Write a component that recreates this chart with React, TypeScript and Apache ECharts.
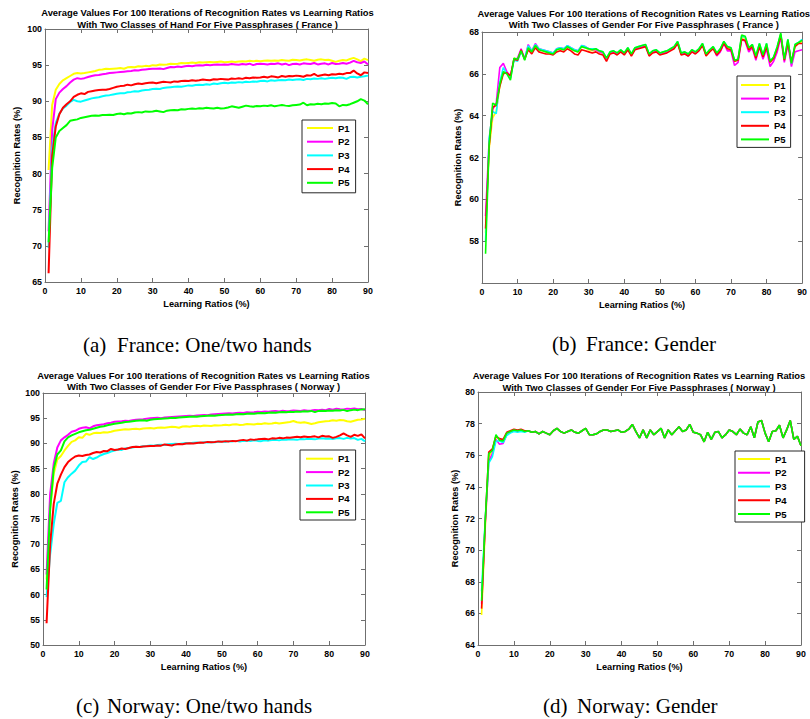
import { useEffect, useRef } from 'react';
import * as echarts from 'echarts';

// ---------- data ----------
const ratios: number[] = Array.from({ length: 90 }, (_, i) => i + 1);
const seriesNames = ['P1', 'P2', 'P3', 'P4', 'P5'];
const seriesColors = ['#ffff00', '#ff00ff', '#00ffff', '#ff0000', '#00ff00'];

const xTicks = { min: 0, max: 90, interval: 10 };
const yTicksA = { min: 65, max: 100, interval: 5 };
const yTicksB = { min: 56, max: 68, interval: 2 };
const yTicksC = { min: 50, max: 100, interval: 5 };
const yTicksD = { min: 64, max: 80, interval: 2 };

// (a) France, one/two hands
const franceHandP1 = [
  80.5, 89.5, 91.6, 92.4, 92.9, 93.2, 93.5, 93.8, 93.9, 93.85,
  93.9, 94.0, 94.1, 94.2, 94.35, 94.4, 94.5, 94.45, 94.5, 94.55,
  94.6, 94.5, 94.7, 94.75, 94.7, 94.85, 94.8, 94.9, 94.85, 95.0,
  94.95, 95.1, 95.05, 95.1, 95.2, 95.15, 95.2, 95.3, 95.25, 95.3,
  95.35, 95.3, 95.4, 95.35, 95.4, 95.45, 95.4, 95.45, 95.5, 95.4,
  95.45, 95.5, 95.45, 95.5, 95.55, 95.5, 95.6, 95.55, 95.6, 95.55,
  95.6, 95.65, 95.6, 95.65, 95.6, 95.7, 95.65, 95.6, 95.75, 95.7,
  95.65, 95.75, 95.8, 95.7, 95.6, 95.75, 95.8, 95.7, 95.75, 95.6,
  95.45, 95.6, 95.7, 95.65, 95.85, 96.0, 95.8, 95.55, 95.9, 95.7,
];
const franceHandP2 = [
  72, 86, 90.3, 91.2, 91.7, 92.1, 92.6, 93.0, 93.2, 93.1,
  93.2, 93.35, 93.5, 93.6, 93.65, 93.75, 93.8, 93.9, 93.95, 94.0,
  94.05, 94.1, 94.15, 94.2, 94.3, 94.25, 94.35, 94.4, 94.45, 94.5,
  94.5, 94.55, 94.45, 94.6, 94.75, 94.7, 94.8, 94.75, 94.85, 94.9,
  94.85, 94.95, 95.0, 94.95, 95.05, 95.0, 95.05, 95.1, 95.05, 95.1,
  95.05, 95.15, 95.1, 95.05, 95.15, 95.1, 95.2, 95.0, 95.15, 95.2,
  95.15, 95.1, 95.2, 95.15, 95.25, 95.1, 95.2, 95.0, 95.15, 95.2,
  95.1, 95.25, 95.2, 95.15, 95.3, 95.1, 95.2, 95.25, 95.1, 95.3,
  95.15, 95.2, 95.3, 95.2, 95.35, 95.6, 95.4, 95.3, 95.5, 95.1,
];
const franceHandP3 = [
  69.7, 83.5, 87, 88.3, 89.0, 89.4, 89.9, 90.2, 90.0, 89.95,
  90.1, 90.25, 90.4, 90.5, 90.55, 90.7, 90.8, 90.85, 90.95, 91.05,
  91.1, 91.1, 91.25, 91.3, 91.4, 91.35, 91.5, 91.55, 91.6, 91.7,
  91.75, 91.7, 91.85, 91.9, 91.95, 92.0, 92.05, 92.0, 92.1, 92.2,
  92.15, 92.25, 92.3, 92.25, 92.35, 92.3, 92.45, 92.4, 92.5, 92.55,
  92.5, 92.6, 92.55, 92.65, 92.6, 92.7, 92.65, 92.75, 92.7, 92.8,
  92.85, 92.75, 92.9, 92.85, 92.9, 92.95, 92.9, 93.0, 92.95, 93.0,
  93.05, 92.95, 93.1, 93.05, 93.15, 93.1, 93.2, 93.1, 93.2, 93.25,
  93.2, 93.3, 93.25, 93.1, 93.35, 93.4, 93.3, 93.4, 93.45, 93.55,
];
const franceHandP4 = [
  66.2, 82.5, 86.5, 88.2, 89.1, 89.6, 90.0, 90.6, 90.9, 91.1,
  91.0, 91.3, 91.4, 91.5, 91.55, 91.6, 91.6, 91.7, 91.85, 92.0,
  92.1, 92.15, 92.3, 92.2, 92.35, 92.45, 92.4, 92.5, 92.55, 92.6,
  92.5, 92.6, 92.7, 92.65, 92.6, 92.75, 92.7, 92.8, 92.85, 92.8,
  92.9, 92.85, 92.9, 93.0, 92.95, 92.9, 93.05, 93.0, 93.1, 93.05,
  93.0, 93.15, 93.1, 93.2, 93.1, 93.25, 93.2, 93.3, 93.25, 93.3,
  93.4, 93.3, 93.45, 93.4, 93.3, 93.5, 93.4, 93.5, 93.45, 93.55,
  93.5, 93.4, 93.6, 93.55, 93.8, 93.5, 93.6, 93.7, 93.6, 93.75,
  93.7, 93.8, 93.75, 93.9, 93.9, 94.25, 93.85, 93.6, 94.0, 93.9,
];
const franceHandP5 = [
  70.5, 80.8, 85.0, 85.9, 86.3, 86.7, 87.3, 87.4, 87.5, 87.7,
  87.8, 87.9, 88.0, 88.05, 88.0, 88.1, 88.1, 88.15, 88.1, 88.25,
  88.3, 88.2, 88.35, 88.3, 88.45, 88.5, 88.45, 88.6, 88.55, 88.6,
  88.7, 88.6, 88.5, 88.7, 88.75, 88.8, 88.75, 88.9, 88.85, 88.95,
  89.0, 88.95, 89.05, 89.0, 89.1, 89.05, 89.0, 89.1, 89.0, 89.05,
  89.15, 89.3, 89.2, 89.1, 89.25, 89.4, 89.3, 89.25, 89.35, 89.3,
  89.4, 89.35, 89.45, 89.3, 89.4, 89.5, 89.4, 89.35, 89.45, 89.5,
  89.55, 89.8, 89.45, 89.6, 89.55, 89.65, 89.6, 89.7, 89.65, 89.75,
  89.7, 89.3, 89.5, 89.45, 89.6, 89.8, 90.0, 90.3, 90.1, 89.6,
];

// (b) France, gender
const franceGenderP1 = [
  58.4, 62.4, 63.9, 64.2, 65.4, 66.1, 66.05, 65.8, 66.75, 66.7,
  67.1, 66.7, 67.2, 67.05, 67.3, 67.15, 67.1, 67.05, 67.0, 66.95,
  67.15, 67.2, 67.15, 67.3, 67.2, 67.1, 67.05, 67.3, 67.25, 67.15,
  67.1, 67.15, 67.05, 67.0, 66.7, 67.0, 67.05, 66.95, 67.1, 66.95,
  67.2, 66.9, 67.2, 67.25, 67.3, 67.35, 66.9, 67.05, 67.1, 66.95,
  67.0, 67.05, 67.15, 67.25, 67.5, 66.95, 67.0, 66.9, 67.1, 67.0,
  67.15, 67.4, 66.9, 67.1, 67.25, 66.95, 67.15, 67.5, 67.25, 67.2,
  66.6, 66.7, 67.75, 67.7, 67.2, 67.35, 66.8, 67.4, 66.85, 67.4,
  66.55, 66.75, 67.25, 67.9, 66.65, 67.6, 66.45, 67.35, 67.45, 67.55,
];
const franceGenderP2 = [
  59.2, 62.8, 64.3, 64.6, 66.3, 66.5, 66.1, 65.9, 66.7, 66.75,
  67.2, 66.7, 67.4, 67.1, 67.45, 67.2, 67.15, 67.1, 67.05, 67.0,
  67.2, 67.25, 67.2, 67.35, 67.25, 67.15, 67.1, 67.35, 67.3, 67.2,
  67.15, 67.15, 67.05, 67.0, 66.7, 67.0, 67.05, 66.95, 67.1, 66.95,
  67.2, 66.9, 67.2, 67.25, 67.3, 67.35, 66.9, 67.05, 67.1, 66.95,
  67.0, 67.05, 67.15, 67.25, 67.5, 66.95, 67.0, 66.85, 67.1, 67.0,
  67.15, 67.4, 66.9, 67.1, 67.25, 66.85, 67.05, 67.45, 67.1, 67.1,
  66.4, 66.55, 67.65, 67.55, 67.05, 67.25, 66.65, 67.3, 66.7, 67.2,
  66.35, 66.6, 67.05, 67.75, 66.55, 67.4, 66.35, 67.05, 67.1, 67.15,
];
const franceGenderP3 = [
  58.0, 62.9, 64.2, 64.1, 65.6, 66.3, 66.0, 65.8, 66.65, 66.6,
  67.05, 66.75, 67.35, 67.1, 67.4, 67.2, 67.15, 67.1, 67.05, 67.0,
  67.2, 67.25, 67.2, 67.35, 67.25, 67.15, 67.1, 67.35, 67.3, 67.2,
  67.2, 67.2, 67.1, 67.05, 66.75, 67.05, 67.1, 67.0, 67.15, 67.0,
  67.25, 66.95, 67.25, 67.3, 67.35, 67.4, 66.95, 67.1, 67.15, 67.0,
  67.05, 67.1, 67.2, 67.3, 67.55, 67.0, 67.05, 66.95, 67.15, 67.05,
  67.2, 67.45, 66.95, 67.15, 67.3, 67.0, 67.2, 67.55, 67.3, 67.25,
  66.65, 66.7, 67.8, 67.75, 67.25, 67.4, 66.85, 67.45, 66.9, 67.45,
  66.6, 66.8, 67.3, 67.9, 66.7, 67.65, 66.5, 67.4, 67.5, 67.65,
];
const franceGenderP4 = [
  58.6, 62.5, 64.4, 64.5, 65.4, 66.0, 66.05, 65.9, 66.7, 66.65,
  67.15, 66.7, 67.15, 66.95, 67.25, 67.05, 67.0, 66.95, 66.95, 66.9,
  67.05, 67.1, 67.05, 67.2, 67.1, 66.95, 66.9, 67.15, 67.1, 67.05,
  67.0, 67.05, 66.95, 66.9, 66.6, 66.95, 67.0, 66.9, 67.05, 66.9,
  67.15, 66.85, 67.15, 67.2, 67.25, 67.3, 66.85, 67.0, 67.05, 66.9,
  66.95, 67.0, 67.1, 67.2, 67.45, 66.9, 66.95, 66.85, 67.05, 66.95,
  67.1, 67.35, 66.85, 67.05, 67.2, 66.9, 67.1, 67.45, 67.2, 67.15,
  66.6, 66.65, 67.65, 67.6, 67.15, 67.3, 66.75, 67.3, 66.8, 67.3,
  66.55, 66.75, 67.2, 67.85, 66.65, 67.5, 66.55, 67.3, 67.45, 67.45,
];
const franceGenderP5 = [
  57.4, 62.6, 64.6, 64.5, 65.5, 66.1, 66.0, 65.7, 66.75, 66.7,
  67.1, 66.65, 67.25, 67.05, 67.35, 67.15, 67.1, 67.05, 67.0, 66.95,
  67.15, 67.2, 67.15, 67.3, 67.2, 67.1, 67.05, 67.3, 67.25, 67.2,
  67.15, 67.2, 67.1, 67.05, 66.75, 67.05, 67.1, 67.0, 67.15, 67.0,
  67.25, 66.95, 67.25, 67.3, 67.35, 67.4, 66.95, 67.1, 67.15, 67.0,
  67.05, 67.1, 67.2, 67.3, 67.55, 67.0, 67.05, 66.95, 67.15, 67.05,
  67.2, 67.45, 66.95, 67.15, 67.3, 67.0, 67.2, 67.55, 67.3, 67.25,
  66.65, 66.7, 67.85, 67.8, 67.25, 67.4, 66.85, 67.45, 66.9, 67.45,
  66.6, 66.8, 67.3, 67.95, 66.7, 67.65, 66.5, 67.4, 67.5, 67.6,
];

// (c) Norway, one/two hands
const norwayHandP1 = [
  63, 77, 84, 86.8, 87.5, 88.6, 89.5, 90.3, 90.6, 91.2,
  91.1, 91.9, 91.7, 92.0, 92.1, 92.05, 92.2, 92.15, 92.3, 92.5,
  92.6, 92.7, 92.8, 92.75, 92.85, 92.9, 92.8, 92.95, 93.0, 93.05,
  92.95, 93.1, 93.15, 93.1, 93.2, 93.3, 93.25, 93.1, 93.35, 93.4,
  93.3, 93.45, 93.5, 93.4, 93.55, 93.5, 93.45, 93.6, 93.55, 93.6,
  93.7, 93.6, 93.75, 93.8, 93.65, 93.7, 93.85, 93.8, 93.75, 93.9,
  93.85, 94.0, 93.9, 93.95, 94.1, 93.95, 94.05, 94.15, 94.25, 94.45,
  94.2, 94.1, 94.2, 94.05, 93.85, 94.0, 94.2, 94.3, 94.4, 94.45,
  94.6, 94.5, 94.65, 94.6, 94.4, 94.3, 94.5, 94.7, 94.75, 94.9,
];
const norwayHandP2 = [
  64, 80, 86, 89.2, 90.6, 91.2, 91.7, 92.3, 92.5, 92.9,
  93.1, 93.2, 93.0, 93.4, 93.6, 93.7, 93.8, 94.0, 94.1, 94.3,
  94.35, 94.4, 94.5, 94.45, 94.6, 94.7, 94.75, 94.8, 94.9, 95.0,
  95.05, 95.1, 95.0, 95.15, 95.2, 95.25, 95.3, 95.35, 95.4, 95.45,
  95.5, 95.45, 95.55, 95.6, 95.65, 95.6, 95.75, 95.8, 95.85, 95.9,
  95.95, 96.0, 95.95, 96.05, 96.1, 96.05, 96.2, 96.15, 96.2, 96.3,
  96.25, 96.35, 96.3, 96.4, 96.45, 96.35, 96.5, 96.4, 96.45, 96.55,
  96.5, 96.45, 96.6, 96.5, 96.55, 96.65, 96.6, 96.7, 96.6, 96.85,
  96.7, 96.9, 96.8, 96.75, 96.9, 96.85, 96.95, 96.8, 96.85, 96.6,
];
const norwayHandP3 = [
  59.5, 68, 74, 78.2, 78.6, 82.3, 83.3, 84.0, 84.6, 85.6,
  86.3, 86.4, 87.3, 86.9, 87.2, 87.6, 87.9, 88.1, 88.4, 88.6,
  88.8, 88.7, 89.0, 89.1, 89.2, 89.35, 89.3, 89.45, 89.5, 89.6,
  89.55, 89.7, 89.75, 89.7, 89.85, 89.9, 89.95, 89.9, 90.0, 90.1,
  90.05, 90.15, 90.2, 90.1, 90.25, 90.2, 90.3, 90.25, 90.35, 90.4,
  90.3, 90.45, 90.4, 90.5, 90.35, 90.5, 90.55, 90.45, 90.6, 90.5,
  90.45, 90.6, 90.55, 90.65, 90.7, 90.6, 90.75, 90.7, 90.8, 90.75,
  90.7, 90.85, 90.8, 90.9, 90.85, 90.8, 90.95, 91.0, 90.9, 90.95,
  90.85, 91.0, 91.05, 90.9, 91.1, 90.95, 91.05, 90.7, 90.9, 90.4,
];
const norwayHandP4 = [
  54.3, 70, 78, 82, 83.8, 85.3, 86.3, 86.9, 87.4, 87.6,
  87.5, 87.7, 87.8, 88.1, 88.3, 88.2, 88.5, 88.45, 88.9, 88.7,
  88.8, 89.0, 88.9, 89.1, 89.3, 89.35, 89.3, 89.4, 89.45, 89.5,
  89.5, 89.6, 89.55, 89.8, 89.7, 89.6, 89.8, 89.9, 89.85, 90.0,
  90.05, 90.0, 90.1, 90.2, 90.15, 90.3, 90.25, 90.3, 90.4, 90.35,
  90.45, 90.4, 90.5, 90.45, 90.6, 90.7, 90.55, 90.8, 90.7, 90.8,
  90.85, 90.9, 90.8, 91.0, 90.95, 91.1, 91.0, 91.15, 91.1, 91.2,
  91.3, 91.2, 91.35, 91.25, 91.3, 91.4, 91.2, 91.5, 91.35, 91.4,
  91.1, 91.3, 91.6, 92.0, 91.6, 91.3, 91.7, 91.5, 91.8, 91.0,
];
const norwayHandP5 = [
  61, 77, 85, 87.8, 88.6, 90.4, 91.2, 91.6, 91.9, 92.2,
  92.4, 92.6, 92.7, 92.9, 93.1, 93.3, 93.4, 93.6, 93.75, 93.9,
  94.0, 94.1, 94.25, 94.3, 94.4, 94.5, 94.55, 94.6, 94.5, 94.7,
  94.8, 94.85, 94.9, 94.95, 95.0, 95.1, 95.05, 95.15, 95.2, 95.25,
  95.3, 95.35, 95.3, 95.4, 95.45, 95.5, 95.55, 95.5, 95.6, 95.65,
  95.7, 95.75, 95.7, 95.8, 95.85, 95.8, 95.9, 95.95, 95.9, 96.0,
  96.05, 96.0, 96.1, 96.15, 96.1, 96.2, 96.25, 96.2, 96.3, 96.25,
  96.35, 96.3, 96.4, 96.35, 96.45, 96.2, 96.45, 96.5, 96.45, 96.55,
  96.5, 96.6, 96.55, 96.65, 96.4, 96.6, 96.7, 96.6, 96.75, 96.8,
];

// (d) Norway, gender: ratios 1..13 differ per passphrase, ratios 14..90 coincide
const norwayGenderHeadP1 = [65.9, 71.3, 75.9, 76.3, 77.2, 77.0, 76.9, 77.4, 77.5, 77.6, 77.55, 77.6, 77.5];
const norwayGenderHeadP2 = [66.6, 71.6, 75.6, 76.1, 77.0, 76.7, 76.75, 77.3, 77.45, 77.55, 77.5, 77.55, 77.5];
const norwayGenderHeadP3 = [67.4, 71.9, 75.5, 75.9, 76.9, 76.9, 76.8, 77.25, 77.4, 77.5, 77.45, 77.5, 77.45];
const norwayGenderHeadP4 = [66.3, 71.7, 76.2, 76.4, 77.2, 77.05, 77.0, 77.45, 77.55, 77.65, 77.6, 77.65, 77.55];
const norwayGenderHeadP5 = [66.8, 71.8, 76.1, 76.3, 77.3, 76.95, 76.9, 77.4, 77.5, 77.6, 77.55, 77.6, 77.5];
const norwayGenderTail = [
  77.55, 77.45, 77.5, 77.35, 77.5, 77.4, 77.3, 77.55, 77.7, 77.5,
  77.4, 77.5, 77.6, 77.45, 77.4, 77.55, 77.7, 77.3, 77.3, 77.35,
  77.5, 77.6, 77.6, 77.5, 77.55, 77.6, 77.45, 77.5, 77.65, 77.95,
  77.5, 77.1, 77.6, 77.1, 77.6, 77.3, 77.5, 77.7, 77.1, 77.6,
  77.3, 77.55, 77.8, 77.5, 77.6, 77.95, 77.45, 77.4, 77.3, 76.85,
  77.45, 77.0, 77.45, 77.5, 77.1, 77.3, 77.6, 77.5, 77.3, 77.65,
  77.4, 77.3, 77.8, 77.1, 78.1, 78.2, 77.4, 76.85, 77.5, 77.55,
  77.9, 77.1, 77.6, 78.2, 77.0, 77.2, 76.6,
];
const norwayGenderP1 = [...norwayGenderHeadP1, ...norwayGenderTail];
const norwayGenderP2 = [...norwayGenderHeadP2, ...norwayGenderTail];
const norwayGenderP3 = [...norwayGenderHeadP3, ...norwayGenderTail];
const norwayGenderP4 = [...norwayGenderHeadP4, ...norwayGenderTail];
const norwayGenderP5 = [...norwayGenderHeadP5, ...norwayGenderTail];

const titleLine1 = 'Average Values For 100 Iterations of Recognition Rates vs Learning Ratios';
const titleLine2 = [
  'With Two Classes of Hand For Five Passphrases ( France )',
  'With Two Classes of Gender For Five Passphrases ( France )',
  'With Two Classes of Gender For Five Passphrases ( Norway )',
  'With Two Classes of Gender For Five Passphrases ( Norway )',
];
const captionTags = ['(a)', '(b)', '(c)', '(d)'];
const captionTexts = ['France: One/two hands', 'France: Gender', 'Norway: One/two hands', 'Norway: Gender'];
const xName = 'Learning Ratios (%)';
const yName = 'Recognition Rates (%)';

// ---------- layout ----------
const SANS = '"Liberation Sans", Arial, Helvetica, sans-serif';
const SERIF = '"Liberation Serif", "Times New Roman", Times, serif';
const AXIS = '#6f6f6f';

const panels = [
  {
    grid: { left: 45, top: 29, width: 323, height: 253 },
    yTicks: yTicksA,
    values: [franceHandP1, franceHandP2, franceHandP3, franceHandP4, franceHandP5],
    titleX: 207.5, titleY: [12, 24],
    yNameGap: 23.5, lineWidth: 2,
    legend: { left: 302, top: 120, padding: [3, 6, 5, 5], itemWidth: 26, itemGap: 3.7 },
    caption: { tagX: 83, textX: 117, y: 345 },
    hideMin: false,
  },
  {
    grid: { left: 482, top: 32, width: 323, height: 251 },
    yTicks: yTicksB,
    values: [franceGenderP1, franceGenderP2, franceGenderP3, franceGenderP4, franceGenderP5],
    titleX: 643.8, titleY: [13.3, 24.5],
    yNameGap: 19.5, lineWidth: 1.6,
    legend: { left: 737, top: 76, padding: [4, 5, 3, 4], itemWidth: 28, itemGap: 3.6 },
    caption: { tagX: 552, textX: 586, y: 344 },
    hideMin: true,
  },
  {
    grid: { left: 43, top: 393, width: 322, height: 252 },
    yTicks: yTicksC,
    values: [norwayHandP1, norwayHandP2, norwayHandP3, norwayHandP4, norwayHandP5],
    titleX: 203.5, titleY: [375, 386.8],
    yNameGap: 23.5, lineWidth: 2,
    legend: { left: 300, top: 450, padding: [3.7, 6, 2.7, 6], itemWidth: 27, itemGap: 3.4 },
    caption: { tagX: 76, textX: 107, y: 705.5 },
    hideMin: false,
  },
  {
    grid: { left: 478, top: 392, width: 323, height: 253 },
    yTicks: yTicksD,
    values: [norwayGenderP1, norwayGenderP2, norwayGenderP3, norwayGenderP4, norwayGenderP5],
    titleX: 639, titleY: [375, 387],
    yNameGap: 18.5, lineWidth: 1.6,
    legend: { left: 735, top: 451, padding: [3, 18, 3, 3], itemWidth: 32, itemGap: 3.75 },
    caption: { tagX: 543, textX: 577, y: 705.5 },
    hideMin: false,
  },
];

export default function App() {
  const ref = useRef<HTMLDivElement>(null);

  useEffect(() => {
    if (!ref.current) return;
    const chart = echarts.init(ref.current, null, { renderer: 'svg' });

    const grid: any[] = [];
    const xAxis: any[] = [];
    const yAxis: any[] = [];
    const series: any[] = [];
    const legend: any[] = [];
    const graphic: any[] = [];

    const lineStyle = { color: AXIS, width: 1 };
    const tickLabel = { color: '#000', fontSize: 8.8, fontWeight: 'bold', fontFamily: SANS };
    const nameStyle = { color: '#000', fontSize: 9.2, fontWeight: 'bold', fontFamily: SANS };

    panels.forEach((p, i) => {
      grid.push({ ...p.grid, containLabel: false });

      const xBase = {
        type: 'value', gridIndex: i, ...xTicks,
        splitLine: { show: false },
        axisLine: { show: true, onZero: false, lineStyle },
        axisTick: { show: true, inside: true, length: 4, lineStyle },
      };
      xAxis.push({
        ...xBase, position: 'bottom',
        axisLabel: { ...tickLabel, margin: 4 },
        name: xName, nameLocation: 'middle', nameGap: 17, nameTextStyle: nameStyle,
      });
      xAxis.push({ ...xBase, position: 'top', axisLabel: { show: false } });

      const yBase = {
        type: 'value', gridIndex: i, ...p.yTicks,
        splitLine: { show: false },
        axisLine: { show: true, onZero: false, lineStyle },
        axisTick: { show: true, inside: true, length: 4, lineStyle },
      };
      const hideMin = p.hideMin;
      const minVal = p.yTicks.min;
      yAxis.push({
        ...yBase, position: 'left',
        axisLabel: {
          ...tickLabel, margin: 3,
          formatter: (v: number) => (hideMin && v === minVal ? '' : String(v)),
        },
        name: yName, nameLocation: 'middle', nameGap: p.yNameGap, nameRotate: 90,
        nameTextStyle: nameStyle,
      });
      yAxis.push({ ...yBase, position: 'right', axisLabel: { show: false } });

      p.values.forEach((vals, k) => {
        series.push({
          type: 'line',
          name: seriesNames[k],
          xAxisIndex: i * 2,
          yAxisIndex: i * 2,
          data: ratios.map((r, j) => [r, vals[j]]),
          symbol: 'none',
          showSymbol: false,
          lineStyle: { color: seriesColors[k], width: p.lineWidth },
          itemStyle: { color: seriesColors[k] },
          emphasis: { disabled: true },
          z: 2 + k,
        });
      });

      legend.push({
        show: true,
        orient: 'vertical',
        left: p.legend.left,
        top: p.legend.top,
        padding: p.legend.padding,
        icon: 'rect',
        itemWidth: p.legend.itemWidth,
        itemHeight: 2,
        itemGap: p.legend.itemGap,
        backgroundColor: '#ffffff',
        borderColor: '#262626',
        borderWidth: 1,
        borderRadius: 0,
        selectedMode: false,
        data: seriesNames,
        textStyle: { color: '#000', fontSize: 9.5, fontWeight: 'bold', fontFamily: SANS, lineHeight: 10, height: 10 },
      });

      graphic.push({
        type: 'text', x: p.titleX, y: p.titleY[0], silent: true,
        style: {
          text: titleLine1, fill: '#000', textAlign: 'center', textVerticalAlign: 'middle',
          font: `bold 9.4px ${SANS}`,
        },
      });
      graphic.push({
        type: 'text', x: p.titleX, y: p.titleY[1], silent: true,
        style: {
          text: titleLine2[i], fill: '#000', textAlign: 'center', textVerticalAlign: 'middle',
          font: `bold 9.4px ${SANS}`,
        },
      });
      graphic.push({
        type: 'text', x: p.caption.tagX, y: p.caption.y, silent: true,
        style: {
          text: captionTags[i], fill: '#000', textAlign: 'left', textVerticalAlign: 'middle',
          font: `21px ${SERIF}`,
        },
      });
      graphic.push({
        type: 'text', x: p.caption.textX, y: p.caption.y, silent: true,
        style: {
          text: captionTexts[i], fill: '#000', textAlign: 'left', textVerticalAlign: 'middle',
          font: `21px ${SERIF}`,
        },
      });
    });

    chart.setOption({
      animation: false,
      backgroundColor: '#ffffff',
      grid, xAxis, yAxis, series, legend, graphic,
    });

    return () => chart.dispose();
  }, []);

  return (
    <div
      ref={ref}
      style={{ position: 'absolute', left: 0, top: 0, width: 810, height: 719, background: '#fff' }}
    />
  );
}
